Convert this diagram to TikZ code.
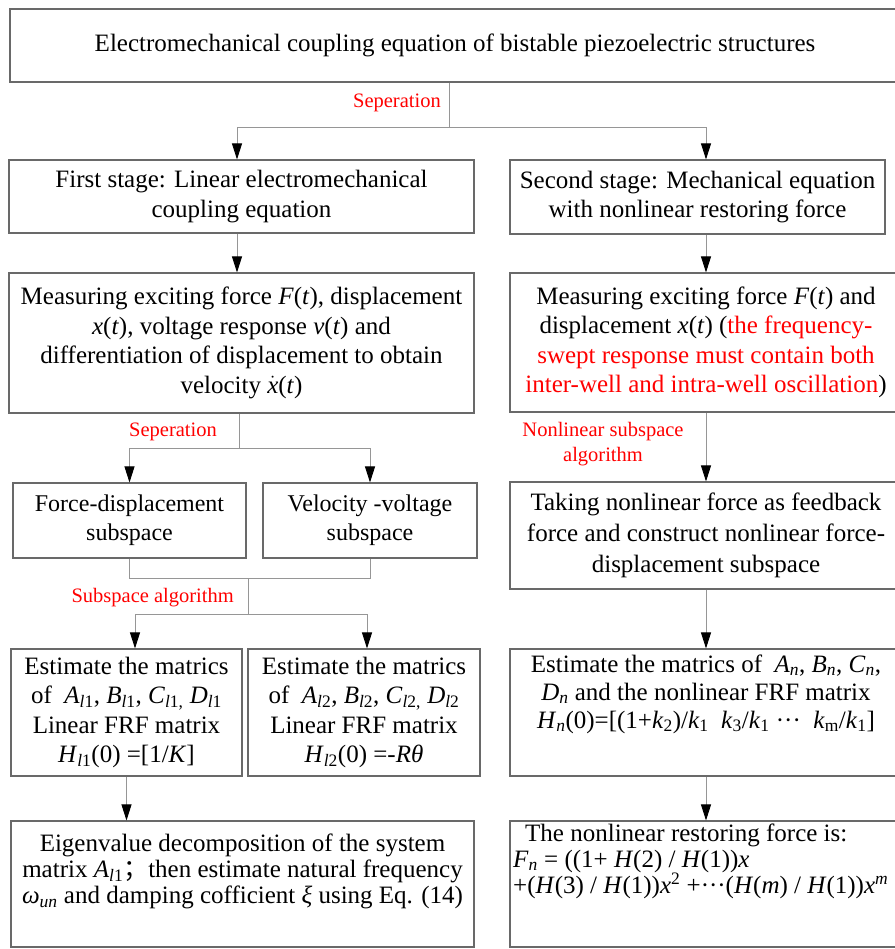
\documentclass[tikz,border=0pt]{standalone}
\usepackage{fontspec}
\setmainfont{Liberation Serif}
\newfontfamily\cjk{Noto Sans CJK SC}
\usetikzlibrary{arrows.meta}
\definecolor{boxgray}{RGB}{105,105,105}
\definecolor{linegray}{RGB}{150,150,150}
\definecolor{lblred}{RGB}{255,0,0}
\newcommand{\vi}[1]{\textit{#1}}
\newcommand{\mysub}[1]{\textsubscript{#1}}
\newcommand{\mysup}[1]{\textsuperscript{#1}}
\begin{document}
\begin{tikzpicture}[x=1pt,y=-1pt,
  box/.style={draw=boxgray, line width=1.1pt, inner sep=0pt, align=center,
    font=\fontsize{25}{29.5}\selectfont},
  plain/.style={inner sep=0pt, align=center, font=\fontsize{25}{29.5}\selectfont},
  tight/.style={inner sep=0pt, font=\fontsize{25}{26}\selectfont},
  conn/.style={draw=linegray, line width=0.9pt},
  arr/.style={conn, -{Triangle[length=16pt,width=10pt,color=black]}},
  lbl/.style={text=lblred, inner sep=0pt, font=\fontsize{20.5}{25}\selectfont}]
\useasboundingbox (0,0) rectangle (894,949);

% boxes
\node[box, minimum width=890pt, minimum height=73pt] (top) at (455,45.5)
  {Electromechanical coupling equation of bistable piezoelectric structures};
\node[box, minimum width=465pt, minimum height=73pt] (s1L) at (241.5,196.5)
  {First stage: Linear electromechanical\\coupling equation};
\node[box, minimum width=375pt, minimum height=74pt] (s1R) at (697.5,197)
  {Second stage: Mechanical equation\\with nonlinear restoring force};
\node[box, minimum width=465pt, minimum height=140pt] (mL) at (241.5,343)
  {Measuring exciting force \vi{F}(\vi{t}), displacement\\
   \vi{x}(\vi{t}), voltage response \vi{v}(\vi{t}) and\\
   differentiation of displacement to obtain\\
   velocity $\dot{\mbox{\vi{x}}}$(\vi{t})};
\node[box, minimum width=392pt, minimum height=139pt] (mR) at (706,342.5)
  {Measuring exciting force \vi{F}(\vi{t}) and\\
   displacement \vi{x}(\vi{t}) (\textcolor{lblred}{the frequency-}\\
   \textcolor{lblred}{swept response must contain both}\\
   \textcolor{lblred}{inter-well and intra-well oscillation})};
\node[box, minimum width=233pt, minimum height=75pt,
  font=\fontsize{24}{29}\selectfont] (FD) at (129.5,520.5)
  {Force-displacement\\subspace};
\node[box, minimum width=214pt, minimum height=75pt,
  font=\fontsize{24}{29}\selectfont] (VV) at (370,520.5)
  {Velocity -voltage\\subspace};
\node[box, minimum width=392pt, minimum height=107pt,
  font=\fontsize{25}{31}\selectfont] (R4) at (706,535.5)
  {Taking nonlinear force as feedback\\
   force and construct nonlinear force-\\
   displacement subspace};
\node[box, minimum width=231pt, minimum height=127pt] (E1) at (126.5,712.5)
  {Estimate the matrics\\
   of\ \ \vi{A}\mysub{\vi{l}1}, \vi{B}\mysub{\vi{l}1}, \vi{C}\mysub{\vi{l}1,} \vi{D}\mysub{\vi{l}1}\\
   Linear FRF matrix\\
   \vi{H}\mysub{\vi{l}1}(0) =[1/\vi{K}]};
\node[box, minimum width=232pt, minimum height=127pt] (E2) at (364,712.5)
  {Estimate the matrics\\
   of\ \ \vi{A}\mysub{\vi{l}2}, \vi{B}\mysub{\vi{l}2}, \vi{C}\mysub{\vi{l}2,} \vi{D}\mysub{\vi{l}2}\\
   Linear FRF matrix\\
   \vi{H}\mysub{\vi{l}2}(0) =-\vi{Rθ}};
\node[box, minimum width=392pt, minimum height=127pt] (R5) at (706,712.5) {};
\node[plain, font=\fontsize{25}{28}\selectfont] (R5t) at (706,694)
  {Estimate the matrics of\ \ \vi{A}\mysub{\vi{n}}, \vi{B}\mysub{\vi{n}}, \vi{C}\mysub{\vi{n}},\\
   \vi{D}\mysub{\vi{n}} and the nonlinear FRF matrix\\
   \vi{H}\mysub{\vi{n}}(0)=[(1+\vi{k}\mysub{2})/\vi{k}\mysub{1}\ \ \vi{k}\mysub{3}/\vi{k}\mysub{1} ···\ \ \vi{k}\mysub{m}/\vi{k}\mysub{1}]};
\node[box, minimum width=463pt, minimum height=126pt] (B1) at (242.5,884) {};
\node[tight, align=center] (B1t) at (242.5,871.5)
  {Eigenvalue decomposition of the system\\
   matrix \vi{A}\mysub{\vi{l}1}{\cjk ；}then estimate natural frequency\\
   \vi{ω}\mysub{\vi{un}} and damping cofficient \vi{ξ} using Eq. (14)};
\node[box, minimum width=392pt, minimum height=126pt] (B2) at (706,884) {};
\node[tight, align=left, anchor=west] (B2t) at (513,861)
  {\hspace*{12pt}The nonlinear restoring force is:\\
   \vi{F}\mysub{\vi{n}} = ((1+ \vi{H}(2) / \vi{H}(1))\vi{x}\\
   +(\vi{H}(3) / \vi{H}(1))\vi{x}\mysup{2} +···(\vi{H}(\vi{m}) / \vi{H}(1))\vi{x}\mysup{\vi{m}}};

% connectors
\coordinate (j1) at (449,127);
\draw[conn] (top.south -| j1) -- (j1);
\draw[arr] (j1) -| ([xshift=-4.5pt]s1L.north);
\draw[arr] (j1) -| (s1R.north -| mR.north);
\node[lbl, anchor=east] (sep1) at (441,103) {Seperation};

\draw[arr] ([xshift=-4.5pt]s1L.south) -- ([xshift=-4.5pt]mL.north);
\draw[arr] (s1R.south -| mR.north) -- (mR.north);

\coordinate (j2) at (239,448);
\draw[conn] (mL.south -| j2) -- (j2);
\draw[arr] (j2) -| (FD.north);
\draw[arr] (j2) -| (VV.north);
\node[lbl, anchor=west] (sep2) at (129,432) {Seperation};

\coordinate (j3) at (248,578);
\coordinate (j4) at (248,614);
\draw[conn] (FD.south) |- (j3);
\draw[conn] (VV.south) |- (j3);
\draw[conn] (j3) -- (j4);
\draw[arr] (j4) -| ([xshift=8.5pt]E1.north);
\draw[arr] (j4) -| ([xshift=3pt]E2.north);
\node[lbl, anchor=east] (sa) at (234,598) {Subspace algorithm};

\draw[arr] (mR.south) -- (R4.north);
\node[lbl, align=center] (nsa) at (603,444.5) {Nonlinear subspace\\algorithm};
\draw[arr] (R4.south) -- (R5.north);
\draw[arr] (E1.south) -- (E1.south |- B1.north);
\draw[arr] (R5.south) -- (B2.north);
\end{tikzpicture}
\end{document}
